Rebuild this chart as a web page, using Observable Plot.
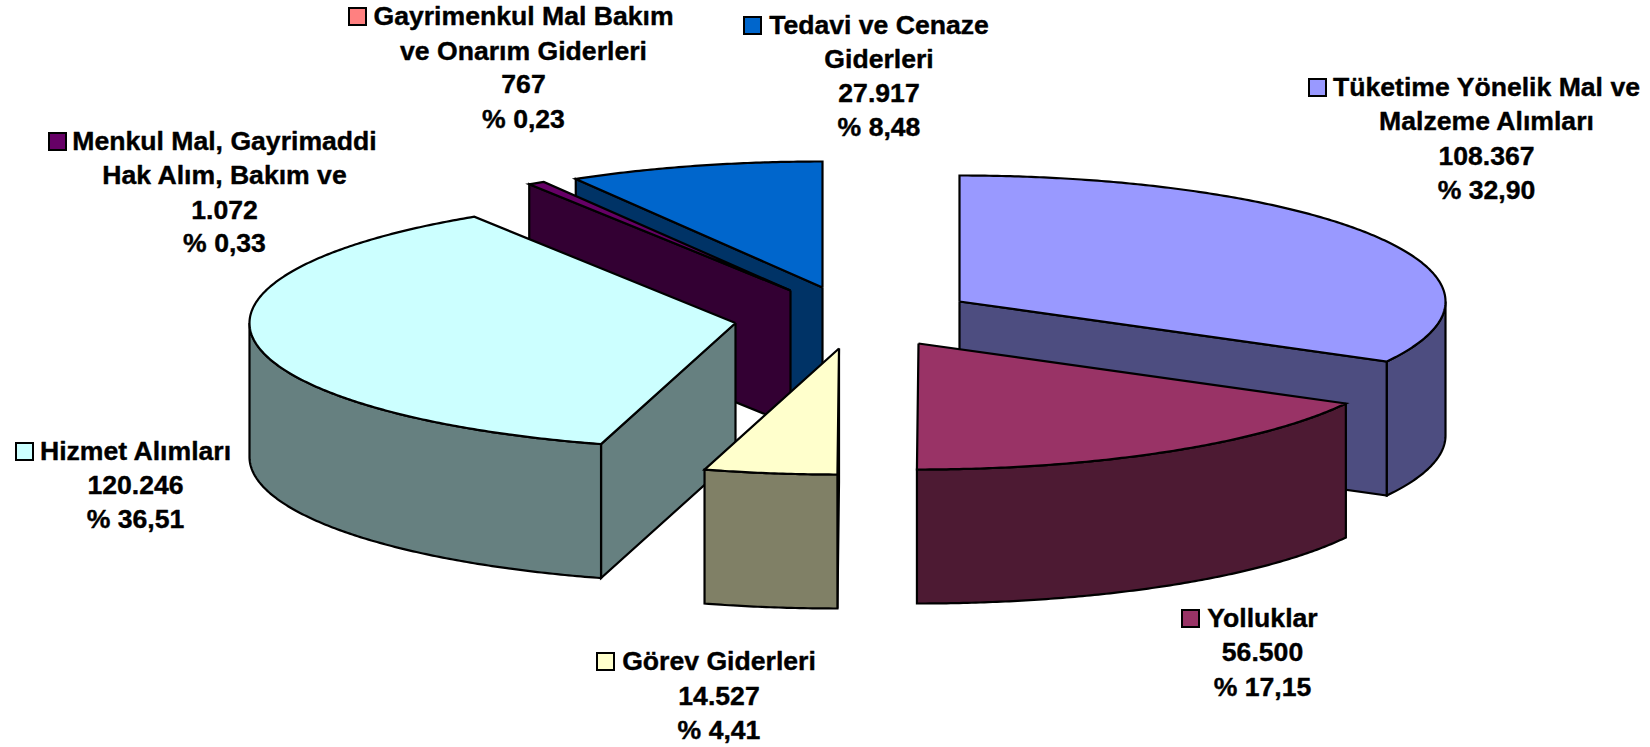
<!DOCTYPE html>
<html lang="tr">
<head>
<meta charset="utf-8">
<style>html,body{margin:0;padding:0;background:#fff;overflow:hidden}svg{display:block}</style>
<script src="https://cdn.jsdelivr.net/npm/d3@7"></script>
<script src="https://cdn.jsdelivr.net/npm/@observablehq/plot@0.6"></script>
</head>
<body>
<div id="chart"></div>
<script>
// Data
const categories = [
  ["Tüketime Yönelik Mal ve", "Malzeme Alımları"],
  ["Yolluklar"],
  ["Görev Giderleri"],
  ["Hizmet Alımları"],
  ["Menkul Mal, Gayrimaddi", "Hak Alım, Bakım ve"],
  ["Gayrimenkul Mal Bakım", "ve Onarım Giderleri"],
  ["Tedavi ve Cenaze", "Giderleri"]
];
const values = [108367, 56500, 14527, 120246, 1072, 767, 27917];
const percents = [32.90, 17.15, 4.41, 36.51, 0.33, 0.23, 8.48];

// Styles
const keyColors  = ["#9999ff", "#993366", "#ffffcc", "#ccffff", "#660066", "#ff8080", "#0066cc"];
const sideColors = ["#4d4d80", "#4d1a33", "#808066", "#668080", "#330033", "#804040", "#003366"];

// Layout of the drawing (ellipse radii, extrusion, exploded apex of each slice, label anchors)
const rx = 486, ry = 126, depth = 134;
const apexX = [959, 918, 838.5, 735, 790, 790, 822];
const apexY = [301, 343, 348, 322.5, 290, 290, 287];
const labelX = [1486, 1262, 718.5, 135, 224, 523, 878.5];
const labelY = [[88,122,157,191],[619,653,688],[662,697,731],[452,486,520],[142,176,211,244],[17,52,85,120],[26,60,94,128]];
const keyX = [1309, 1182, 597, 16, 49, 349, 744];
const keyY = [79, 610, 653, 443, 133, 8, 17];
const keySize = 17;
// Back to front; the two thinnest neighbours read as one sliver in the reference
const paintOrder = [[6], [4, 5], [0], [3], [2], [1]];

const total = d3.sum(values);
const cumulative = d3.cumsum(values);
const angleAt = v => (v / total) * 360;
const startAngle = i => angleAt(i ? cumulative[i - 1] : 0);
const endAngle = i => angleAt(cumulative[i]);
const rad = d => d * Math.PI / 180;

const polys = [];
function addPoly(points, fill) {
  const id = polys.length ? polys[polys.length - 1].id + 1 : 0;
  [...points, points[0]].forEach(([x, y]) => polys.push({id, x, y, fill}));
}
function rimPoint(ax, ay, t, dz = 0) {
  return [ax + rx * Math.sin(rad(t)), ay - ry * Math.cos(rad(t)) + dz];
}
function arc(ax, ay, t0, t1, dz = 0) {
  const n = Math.max(1, Math.ceil(Math.abs(t1 - t0) * 2));
  return d3.range(n + 1).map(k => rimPoint(ax, ay, t0 + (t1 - t0) * k / n, dz));
}
for (const group of paintOrder) {
  const i = group[0];
  const t0 = startAngle(group[0]), t1 = endAngle(group[group.length - 1]);
  const ax = apexX[i], ay = apexY[i];
  const top = keyColors[i], side = sideColors[i];
  // radial side faces that look towards the viewer
  if (Math.sin(rad(t0)) < 0) {
    const p = rimPoint(ax, ay, t0), q = rimPoint(ax, ay, t0, depth);
    addPoly([[ax, ay], p, q, [ax, ay + depth]], side);
  }
  if (Math.sin(rad(t1)) > 0) {
    const p = rimPoint(ax, ay, t1), q = rimPoint(ax, ay, t1, depth);
    addPoly([[ax, ay], p, q, [ax, ay + depth]], side);
  }
  // outer rim: only the front half of the ellipse
  const r0 = Math.max(t0, 90), r1 = Math.min(t1, 270);
  if (r1 > r0) addPoly([...arc(ax, ay, r0, r1), ...arc(ax, ay, r1, r0, depth)], side);
  // top
  addPoly([[ax, ay], ...arc(ax, ay, t0, t1)], top);
}

const num = d3.formatLocale({decimal: ",", thousands: ".", grouping: [3]});
const fmtValue = num.format(",d");
const fmtPct = num.format(".2f");
const textRows = categories.flatMap((lines, i) => {
  const all = [...lines, fmtValue(values[i]), "% " + fmtPct(percents[i])];
  return all.map((text, k) => ({text, x: labelX[i], y: labelY[i][k]}));
});
const keyRows = categories.map((_, i) => ({
  x1: keyX[i], x2: keyX[i] + keySize, y1: keyY[i], y2: keyY[i] + keySize, fill: keyColors[i]
}));

const chart = Plot.plot({
  width: 1650,
  height: 747,
  margin: 0,
  style: {background: "#fff", overflow: "visible"},
  x: {domain: [0, 1650], range: [0, 1650], axis: null},
  y: {domain: [0, 747], range: [0, 747], axis: null},
  color: {type: "identity"},
  marks: [
    Plot.line(polys, {
      x: "x", y: "y", z: "id", fill: "fill", stroke: "#000", strokeWidth: 2.2,
      strokeLinejoin: "miter", strokeMiterlimit: 4, strokeLinecap: "butt"
    }),
    Plot.rect(keyRows, {
      x1: "x1", x2: "x2", y1: "y1", y2: "y2", fill: "fill", stroke: "#000", strokeWidth: 2
    }),
    Plot.text(textRows, {
      x: "x", y: "y", text: "text", fill: "#000", stroke: "#000", strokeWidth: 0.4,
      fontSize: 26.6, fontWeight: "bold", dy: -1,
      fontFamily: "'Liberation Sans', Arial, sans-serif", textAnchor: "middle", lineAnchor: "middle"
    })
  ]
});
document.getElementById("chart").appendChild(chart);
</script>
</body>
</html>
